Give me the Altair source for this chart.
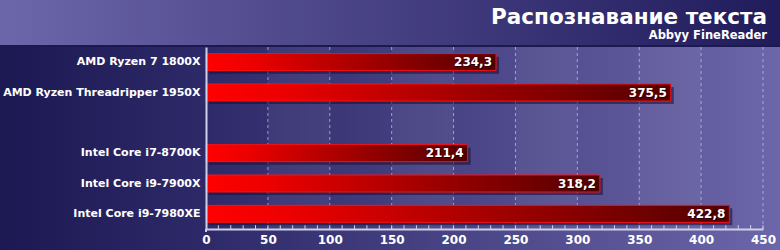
import altair as alt
import pandas as pd

cpus = ["AMD Ryzen 7 1800X", "AMD Ryzen Threadripper 1950X",
        "Intel Core i7-8700K", "Intel Core i9-7900X", "Intel Core i9-7980XE"]
values = [234.3, 375.5, 211.4, 318.2, 422.8]
value_labels = ["234,3", "375,5", "211,4", "318,2", "422,8"]
row_order = ["AMD Ryzen 7 1800X", "AMD Ryzen Threadripper 1950X", " ",
             "Intel Core i7-8700K", "Intel Core i9-7900X", "Intel Core i9-7980XE"]
label_values = [0, 50, 100, 150, 200, 250, 300, 350, 400, 450]
minor_tick_values = list(range(10, 451, 10))
grid_values = [50, 100, 150, 200, 250, 300, 350, 400, 450]
band_starts = [50, 150, 250, 350]
band_ends = [100, 200, 300, 400]
title_text = "Распознавание текста"
subtitle_text = "Abbyy FineReader"

FONT = "DejaVu Sans"

df = pd.DataFrame({"cpu": cpus, "value": values, "label": value_labels})
grid_df = pd.DataFrame({"g": grid_values})
tick_df = pd.DataFrame({"t": minor_tick_values})
band_df = pd.DataFrame({"a": band_starts, "b": band_ends})
one = pd.DataFrame({"k": [0]})

xscale = alt.Scale(domain=[0, 450], nice=False, zero=True)
yscale = alt.Scale(domain=row_order, paddingInner=0.0, paddingOuter=0.0)

xaxis = alt.Axis(values=label_values, title=None, grid=False, zindex=2,
                 labelOverlap=False, labelBound=False, labelFlush=False,
                 labelFont=FONT, labelFontWeight="bold", labelFontSize=12,
                 labelColor="#ffffff", labelPadding=5, ticks=False,
                 domainColor="#d0cfe8", domainWidth=2)
yaxis = alt.Axis(title=None, ticks=False, labelFont=FONT, zindex=2,
                 labelFontWeight="bold", labelFontSize=11, labelLimit=300,
                 labelColor="#ffffff", labelPadding=6,
                 domainColor="#d0cfe8", domainWidth=2)


def grad(stops):
    return alt.LinearGradient(
        gradient="linear",
        stops=[alt.GradientStop(color=c, offset=o) for c, o in stops],
        x1=0, x2=1, y1=0, y2=0,
    )


single = alt.Chart(one)
base = alt.Chart(df)

header = single.mark_rect(color=grad([("#6c66aa", 0), ("#201b5b", 1)])).encode(
    x=alt.value(-206), x2=alt.value(574), y=alt.value(-47), y2=alt.value(-1)
)
header_line = single.mark_rect(color="#1c1850").encode(
    x=alt.value(-206), x2=alt.value(574), y=alt.value(-2), y2=alt.value(0)
)
left_panel = single.mark_rect(color=grad([("#1c1852", 0), ("#2e2a69", 1)])).encode(
    x=alt.value(-206), x2=alt.value(0), y=alt.value(0), y2=alt.value(203)
)
plot_bg = single.mark_rect(color=grad([("#2e2a69", 0), ("#6c66aa", 1)])).encode(
    x=alt.value(0), x2=alt.value(574), y=alt.value(0), y2=alt.value(203)
)
bands = alt.Chart(band_df).mark_rect(color="#ffffff", opacity=0.05).encode(
    x=alt.X("a:Q", scale=xscale, axis=xaxis), x2="b:Q",
    y=alt.value(0), y2=alt.value(182)
)
grid = alt.Chart(grid_df).mark_rule(
    color="#c8c6e6", strokeDash=[3, 3], strokeWidth=1, opacity=0.7
).encode(x=alt.X("g:Q", scale=xscale, axis=xaxis), y=alt.value(0), y2=alt.value(182))

minor_ticks = alt.Chart(tick_df).mark_rule(color="#d0cfe8", strokeWidth=1).encode(
    x=alt.X("t:Q", scale=xscale, axis=xaxis), y=alt.value(178), y2=alt.value(182)
)
yline_ext = single.mark_rule(color="#d0cfe8", strokeWidth=2).encode(
    x=alt.value(0), y=alt.value(182), y2=alt.value(185)
)

shadow = base.mark_bar(
    color="#120f35", opacity=0.55, size=17,
    xOffset=3, x2Offset=3, yOffset=3, y2Offset=3
).encode(
    x=alt.X("value:Q", scale=xscale, axis=xaxis), x2=alt.datum(0),
    y=alt.Y("cpu:N", scale=yscale, sort=row_order, axis=yaxis),
)

bars = base.mark_bar(
    size=17, stroke="#ff1010", strokeWidth=1,
    color=grad([("#ff0000", 0), ("#ee0000", 0.15), ("#9a0000", 0.6), ("#520000", 1)]),
).encode(
    x=alt.X("value:Q", scale=xscale, axis=xaxis),
    x2=alt.datum(0),
    y=alt.Y("cpu:N", scale=yscale, sort=row_order, axis=yaxis),
)

text_shadow = base.mark_text(
    align="right", baseline="middle", dx=-3, dy=1, font=FONT,
    fontWeight="bold", fontSize=12, color="#000000", opacity=0.6
).encode(x=alt.X("value:Q", scale=xscale, axis=xaxis),
         y=alt.Y("cpu:N", scale=yscale, sort=row_order, axis=yaxis), text="label:N")
text = base.mark_text(
    align="right", baseline="middle", dx=-4, font=FONT,
    fontWeight="bold", fontSize=12, color="#ffffff"
).encode(x=alt.X("value:Q", scale=xscale, axis=xaxis),
         y=alt.Y("cpu:N", scale=yscale, sort=row_order, axis=yaxis), text="label:N")

title = single.mark_text(
    align="right", baseline="alphabetic", font=FONT, fontWeight="bold",
    fontSize=21.5, color="#ffffff", text=title_text
).encode(x=alt.value(561), y=alt.value(-23))
subtitle = single.mark_text(
    align="right", baseline="alphabetic", font=FONT, fontWeight="bold",
    fontSize=11.5, color="#ffffff", text=subtitle_text
).encode(x=alt.value(561), y=alt.value(-8))

chart = alt.layer(
    header, left_panel, plot_bg, header_line, bands, grid, minor_ticks, shadow, bars,
    text_shadow, text, yline_ext, title, subtitle
).properties(
    width=557, height=182,
    padding={"left": 206, "right": 17, "top": 47, "bottom": 21},
    autosize=alt.AutoSizeParams(type="none"),
    background="#1e1a55",
).configure_view(stroke=None)

chart.save("out.html", embed_options={"renderer": "svg", "actions": False})
